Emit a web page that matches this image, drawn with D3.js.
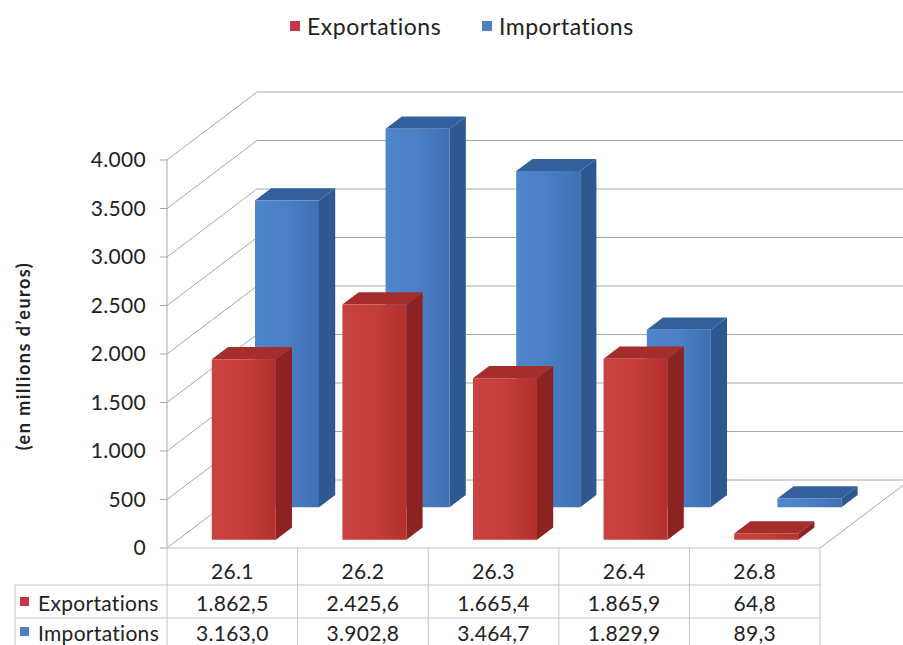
<!DOCTYPE html>
<html><head><meta charset="utf-8">
<script src="https://cdn.jsdelivr.net/npm/d3@7"></script>
<style>body{margin:0;background:#fff}svg{display:block;font-family:Lato,"Open Sans",sans-serif}</style>
</head><body><svg id="c" width="903" height="645"></svg>
<script>
const categories = ["26.1","26.2","26.3","26.4","26.8"];
const series = ["Exportations","Importations"];
const exportations = [1862.5, 2425.6, 1665.4, 1865.9, 64.8];
const importations = [3163.0, 3902.8, 3464.7, 1829.9, 89.3];
const exportLabels = ["1.862,5","2.425,6","1.665,4","1.865,9","64,8"];
const importLabels = ["3.163,0","3.902,8","3.464,7","1.829,9","89,3"];
const yTicks = [0,500,1000,1500,2000,2500,3000,3500,4000];
const yTickLabels = ["0","500","1.000","1.500","2.000","2.500","3.000","3.500","4.000"];

const svg = d3.select("#c");
const X0 = 167, X1 = 820, DX = 90, DY = -68;
const x = d3.scaleBand().domain(categories).range([X0, X1]);
const y = d3.scaleLinear().domain([0,4000]).range([548,160]);
const z = d3.scaleBand().domain(series).range([0,0.9]).paddingInner(0.625).paddingOuter(0.25);
const P = (px, v, zz) => [px + zz*DX, y(v) + zz*DY];
const grid = "#a6a6a6";
const txt = "#222";

// back wall gridlines + left wall
yTicks.forEach(t => {
  const a = P(X0, t, 1), b = P(X1, t, 1);
  svg.append("line").attr("x1",a[0]).attr("y1",a[1]).attr("x2",b[0]).attr("y2",b[1]).attr("stroke",grid).attr("stroke-width",1);
  const f = P(X0, t, 0);
  svg.append("line").attr("x1",f[0]).attr("y1",f[1]).attr("x2",a[0]).attr("y2",a[1]).attr("stroke",grid).attr("stroke-width",1);
});
// floor right edge
{ const a = P(X1,0,0), b = P(X1,0,1);
  svg.append("line").attr("x1",a[0]).attr("y1",a[1]).attr("x2",b[0]).attr("y2",b[1]).attr("stroke",grid); }
// front axis
svg.append("line").attr("x1",X0).attr("y1",y(0)).attr("x2",X0).attr("y2",y(4000)).attr("stroke",grid);
yTicks.forEach((t,i) => {
  svg.append("line").attr("x1",X0-7).attr("x2",X0).attr("y1",y(t)).attr("y2",y(t)).attr("stroke",grid);
  svg.append("text").attr("x",146).attr("y",y(t)+7).attr("text-anchor","end").attr("font-size",21)
    .attr("letter-spacing",0.3).attr("fill",txt).text(yTickLabels[i]);
});
svg.append("text").attr("transform",`translate(30,356) rotate(-90)`).attr("text-anchor","middle")
  .attr("font-size",18).attr("letter-spacing",1.5).attr("font-weight","bold").attr("fill",txt).text("(en millions d\u2019euros)");

// gradients
const defs = svg.append("defs");
function grad(id, c1, c2){
  const g = defs.append("linearGradient").attr("id",id).attr("x1","0").attr("x2","1").attr("y1","0").attr("y2","0");
  g.append("stop").attr("offset","0").attr("stop-color",c1);
  g.append("stop").attr("offset","0.5").attr("stop-color",d3.interpolateRgb(c1,c2)(0.3));
  g.append("stop").attr("offset","1").attr("stop-color",c2);
}
grad("gr","#c9423f","#b4302d");
grad("gb","#4f86cb","#3e70b3");
const colors = {
  Exportations: {front:"url(#gr)", side:"#8c2322", top:"#a52e2d", legend:"#c8364a"},
  Importations: {front:"url(#gb)", side:"#2d5890", top:"#335f9c", legend:"#4f7fc0"}
};
const BW = 64, BOFF = 34;
function bar(cat, v, s){
  const c = colors[s];
  const xl = x(cat) + BOFF, xr = xl + BW;
  const z0 = z(s), z1 = z0 + z.bandwidth();
  const poly = pts => svg.append("polygon").attr("points", pts.map(p=>p.join(",")).join(" "));
  poly([P(xr,0,z0),P(xr,0,z1),P(xr,v,z1),P(xr,v,z0)]).attr("fill",c.side);
  poly([P(xl,v,z0),P(xr,v,z0),P(xr,v,z1),P(xl,v,z1)]).attr("fill",c.top);
  poly([P(xl,0,z0),P(xr,0,z0),P(xr,v,z0),P(xl,v,z0)]).attr("fill",c.front);
}
categories.forEach((cat,i) => bar(cat, importations[i], "Importations"));
categories.forEach((cat,i) => bar(cat, exportations[i], "Exportations"));

// data table
const tb = "#c4c4c4";
const line = (x1,y1,x2,y2) => svg.append("line").attr("x1",x1).attr("y1",y1).attr("x2",x2).attr("y2",y2).attr("stroke",tb);
line(X0,548,X1,548);
line(15,585,X1,585);
line(15,618,X1,618);
line(15,585,15,645);
categories.forEach(c => line(x(c),548,x(c),645));
line(X1,548,X1,645);
categories.forEach((c,i) => {
  const cx = x(c) + x.bandwidth()/2;
  const t = (yy, s) => svg.append("text").attr("x",cx).attr("y",yy).attr("text-anchor","middle")
    .attr("font-size",21).attr("letter-spacing",0.3).attr("fill",txt).text(s);
  t(579, c); t(611, exportLabels[i]); t(641, importLabels[i]);
});
series.forEach((s,i) => {
  const yy = [611,641][i];
  svg.append("rect").attr("x",20).attr("y",yy-14).attr("width",9).attr("height",9).attr("fill",colors[s].legend);
  svg.append("text").attr("x",38).attr("y",yy).attr("font-size",21).attr("letter-spacing",0.3).attr("fill",txt).text(s);
});

// legend
const legX = [290, 482];
series.forEach((s,i) => {
  svg.append("rect").attr("x",legX[i]).attr("y",21).attr("width",10).attr("height",10).attr("fill",colors[s].legend);
  svg.append("text").attr("x",legX[i]+17).attr("y",35).attr("font-size",23).attr("letter-spacing",0.5).attr("fill",txt).text(s);
});
</script></body></html>
